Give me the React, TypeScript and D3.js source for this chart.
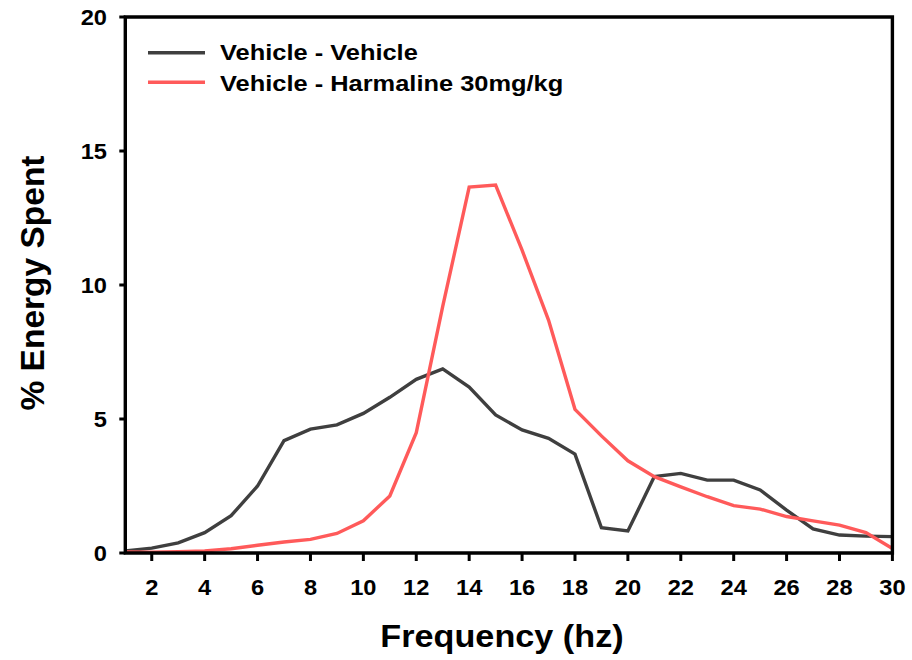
import React from "react";
import * as d3 from "d3";

const frequencies = [1,2,3,4,5,6,7,8,9,10,11,12,13,14,15,16,17,18,19,20,21,22,23,24,25,26,27,28,29,30];
const vehicleVehicle = [0.08,0.18,0.38,0.76,1.39,2.5,4.19,4.62,4.78,5.21,5.81,6.48,6.87,6.19,5.15,4.59,4.28,3.69,0.94,0.82,2.85,2.97,2.72,2.72,2.35,1.6,0.9,0.67,0.63,0.61];
const vehicleHarmaline = [0.04,0.03,0.05,0.08,0.16,0.29,0.41,0.51,0.73,1.2,2.13,4.49,9.2,13.65,13.73,11.3,8.69,5.36,4.37,3.44,2.85,2.47,2.1,1.77,1.64,1.36,1.2,1.04,0.76,0.17];
const xTicks = [2,4,6,8,10,12,14,16,18,20,22,24,26,28,30];
const yTicks = [0,5,10,15,20];
const seriesNames = ["Vehicle - Vehicle", "Vehicle - Harmaline 30mg/kg"];
const seriesColors = ["#3f3f3f", "#ff5a5a"];
const xTitle = "Frequency (hz)";
const yTitle = "% Energy Spent";

const W = 912, H = 660;
const FONT = "Arial, 'Liberation Sans', Helvetica, sans-serif";

function sx(cx: number, k: number) {
  return `translate(${cx},0) scale(${k},1) translate(${-cx},0)`;
}

export default function App() {
  const x = d3.scaleLinear().domain([1, 30]).range([125.3, 892.4]);
  const y = d3.scaleLinear().domain([0, 20]).range([553, 17]);
  const line = d3.line<number>().x((_, i) => x(frequencies[i])).y(d => y(d));
  const series = [vehicleVehicle, vehicleHarmaline];
  const x0 = x.range()[0], x1 = x.range()[1];
  const y0 = y.range()[0], y1 = y.range()[1];
  return (
    <svg width={W} height={H} style={{ position: "absolute", left: 0, top: 0 }} fontFamily={FONT}>
      <rect width={W} height={H} fill="#fff" />
      {series.map((s, i) => (
        <path key={i} d={line(s) || ""} fill="none" stroke={seriesColors[i]} strokeWidth={3.4} strokeLinejoin="miter" />
      ))}
      <path d={`M${x0},${y1}H${x1}V${y0}H${x0}Z`} fill="none" stroke="#000" strokeWidth={3.4} />
      {yTicks.map(t => (
        <g key={t}>
          <line x1={x0 - 6} x2={x0} y1={y(t)} y2={y(t)} stroke="#000" strokeWidth={3} />
          <text x={107} y={y(t)} dy="0.36em" textAnchor="end" fontWeight="bold" fontSize={21.5} transform={sx(107, 1.1)}>{t}</text>
        </g>
      ))}
      {xTicks.map(t => (
        <g key={t}>
          <line x1={x(t)} x2={x(t)} y1={y0} y2={y0 + 8} stroke="#000" strokeWidth={3} />
          <text x={x(t)} y={595} textAnchor="middle" fontWeight="bold" fontSize={21.5} transform={sx(x(t), 1.1)}>{t}</text>
        </g>
      ))}
      <text x={502} y={647} textAnchor="middle" fontWeight="bold" fontSize={32} transform={sx(502, 1.07)}>{xTitle}</text>
      <text transform={`translate(44,283) rotate(-90)`} textAnchor="middle" fontWeight="bold" fontSize={33.5}>{yTitle}</text>
      {seriesNames.map((n, i) => (
        <g key={n}>
          <line x1={148} x2={205} y1={52.7 + i * 29.6} y2={52.7 + i * 29.6} stroke={seriesColors[i]} strokeWidth={3.4} />
          <text x={220} y={60.5 + i * 30.5} fontWeight="bold" fontSize={22.5} transform={sx(220, 1.13)}>{n}</text>
        </g>
      ))}
    </svg>
  );
}
